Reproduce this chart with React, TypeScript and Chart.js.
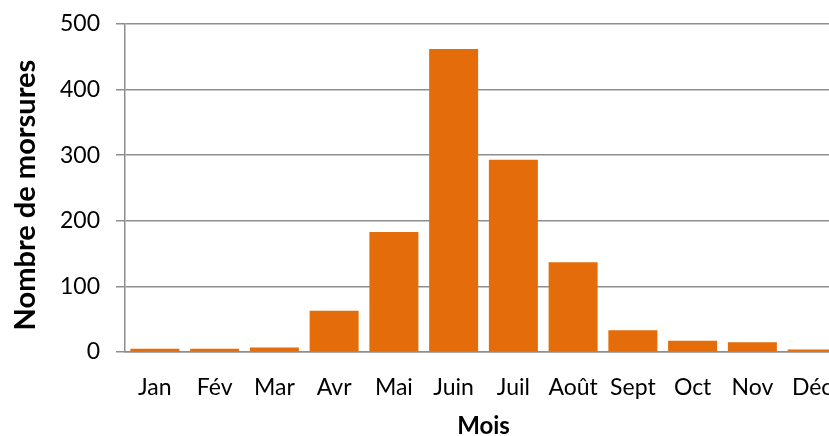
import React, { useEffect, useRef } from "react";
import { Chart, registerables } from "chart.js";

Chart.register(...registerables);

const categories = ["Jan", "Fév", "Mar", "Avr", "Mai", "Juin", "Juil", "Août", "Sept", "Oct", "Nov", "Déc"];
const morsures = [5, 5, 7, 63, 183, 462, 293, 137, 33, 17, 15, 4];
const yTicks = [0, 100, 200, 300, 400, 500];
const xTitle = "Mois";
const yTitle = "Nombre de morsures  ";

const FONT = "Lato, 'Open Sans', sans-serif";
const GRID = "#8e8e8e";

export default function App() {
  const ref = useRef<HTMLCanvasElement | null>(null);
  useEffect(() => {
    if (!ref.current) return;
    const chart = new Chart(ref.current, {
      type: "bar",
      data: {
        labels: categories,
        datasets: [
          {
            data: morsures,
            backgroundColor: "#E46C0A",
            borderWidth: 0,
            barPercentage: 0.82,
            categoryPercentage: 1,
          },
        ],
      },
      options: {
        animation: false,
        responsive: false,
        maintainAspectRatio: false,
        layout: { padding: { top: 24, right: 0, bottom: 0, left: 0 } },
        plugins: { legend: { display: false }, tooltip: { enabled: false } },
        scales: {
          x: {
            grid: { display: true, color: "rgba(0,0,0,0)", drawOnChartArea: false, drawTicks: true, tickLength: 22 },
            border: { display: true, color: GRID, width: 1.5 },
            ticks: { color: "#000", font: { family: FONT, size: 23 }, padding: 0, maxRotation: 0, autoSkip: false },
            title: { display: true, text: xTitle, color: "#000", font: { family: FONT, size: 24, weight: "bold" }, padding: { top: 0, bottom: -5 } },
            afterFit: (s: any) => { s.height = 84; s.paddingRight = 0; s.paddingLeft = 0; },
          },
          y: {
            min: 0,
            max: 500,
            afterBuildTicks: (s: any) => { s.ticks = yTicks.map((v) => ({ value: v })); },
            grid: { color: GRID, lineWidth: 1.5, tickLength: 9, drawTicks: true },
            border: { display: true, color: GRID, width: 1.5 },
            ticks: { color: "#000", font: { family: FONT, size: 23 }, padding: 16 },
            title: { display: true, text: yTitle, color: "#000", font: { family: FONT, size: 29, weight: "bold" }, padding: { top: 8, bottom: 0 } },
            afterFit: (s: any) => { s.width = 125; s.paddingTop = 0; s.paddingBottom = 0; },
          },
        },
      },
    });
    return () => chart.destroy();
  }, []);
  return (
    <div style={{ position: "fixed", left: 0, top: 0, width: 829, height: 436, background: "#fff", overflow: "hidden" }}>
      <canvas ref={ref} width={842} height={436} style={{ width: 842, height: 436, display: "block" }} />
    </div>
  );
}
